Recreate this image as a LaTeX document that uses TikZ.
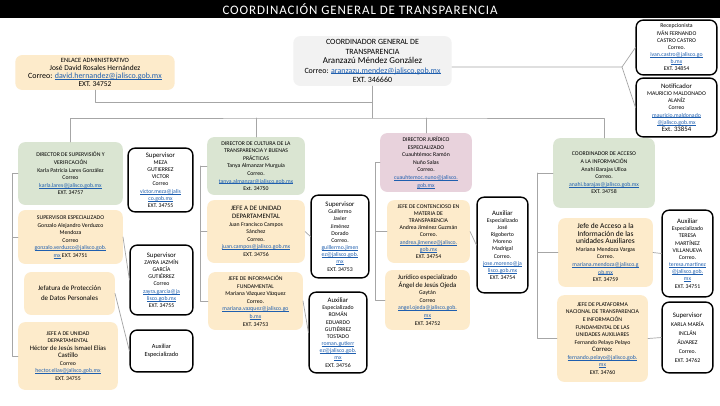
\documentclass[tikz,border=0pt]{standalone}
\usepackage{fontspec}
\setmainfont{Carlito}
\definecolor{boxgreen}{HTML}{DAE5D2}
\definecolor{boxyellow}{HTML}{FDEBCB}
\definecolor{boxgrey}{HTML}{F2F2F2}
\definecolor{boxpink}{HTML}{E8D2DC}
\definecolor{conngray}{HTML}{A6A6A6}
\definecolor{linkblue}{HTML}{1F5FAF}
\newcommand\lnk[1]{{\color{linkblue}\setbox0\hbox{#1}\rlap{\vrule width\wd0 height -0.45pt depth 0.85pt}\box0}}
\newcommand\txs{\fontsize{5.8}{7.6}\selectfont}
\newcommand\txb{\fontsize{5.8}{7.2}\selectfont}
\newcommand\txm{\fontsize{6.8}{8.5}\selectfont}
\newcommand\txl{\fontsize{7.5}{9}\selectfont}
\tikzset{
  every picture/.style={line join=round, line cap=round},
  orgbox/.style={rounded corners=7pt, align=center, inner sep=2pt, font=\txs},
  grnbox/.style={orgbox, fill=boxgreen},
  ylwbox/.style={orgbox, fill=boxyellow},
  greybox/.style={orgbox, fill=boxgrey},
  pinkbox/.style={orgbox, fill=boxpink},
  blkbox/.style={orgbox, draw=black, line width=1.4pt, fill=white, font=\txb},
  conn/.style={draw=conngray, line width=0.7pt},
}

\begin{document}
\begin{tikzpicture}[x=1bp,y=-1bp]
\useasboundingbox (0,0) rectangle (720,405);
\fill[white] (0,0) rectangle (720,405);
\fill[black] (0,0) rectangle (720,18);
\node[text=white, font=\fontsize{13}{14}\selectfont\addfontfeatures{LetterSpace=7}] (title) at (360,9.5) {COORDINACIÓN GENERAL DE TRANSPARENCIA};

\node[greybox, minimum width=159, minimum height=50, font=\fontsize{8}{9.5}\selectfont] (coord) at (372.5,61)
  {COORDINADOR GENERAL DE\\TRANSPARENCIA\\{\fontsize{9}{9.5}\selectfont Aranzazú Méndez González}\\Correo: \lnk{aranzazu.mendez@jalisco.gob.mx}\\EXT. 346660};
\node[ylwbox, minimum width=160, minimum height=35, font=\fontsize{7.5}{8}\selectfont] (enlace) at (95,72.5)
  {{\fontsize{6.5}{8}\selectfont ENLACE ADMINISTRATIVO}\\José David Rosales Hernández\\{\fontsize{8}{8}\selectfont Correo: \lnk{david.hernandez@jalisco.gob.mx}}\\EXT. 34752};
\node[blkbox, minimum width=81, minimum height=55] (recep) at (676.5,47.5)
  {Recepcionista\\IVÁN FERNANDO\\CASTRO CASTRO\\Correo.\\\lnk{ivan.castro@jalisco.go}\\\lnk{b.mx}\\EXT. 34854};
\node[blkbox, minimum width=81, minimum height=59] (notif) at (676.5,107.5)
  {{\txm Notificador}\\MAURICIO MALDONADO\\ALANÍZ\\Correo\\\lnk{mauricio.maldonado}\\\lnk{@jalisco.gob.mx}\\{\txm Ext. 33854}};

\node[grnbox, minimum width=105, minimum height=63] (dirsup) at (70.5,173.5)
  {DIRECTOR DE SUPERVISIÓN Y\\VERIFICACIÓN\\Karla Patricia Lares González\\Correo\\\lnk{karla.lares@jalisco.gob.mx}\\EXT. 34757};
\node[ylwbox, minimum width=105, minimum height=54] (supesp) at (70.5,237)
  {SUPERVISOR ESPECIALIZADO\\Gonzalo Alejandro Verduzco\\Mendoza\\Correo\\\lnk{gonzalo.verduzco@jalisco.gob.}\\\lnk{mx} EXT. 34751};
\node[ylwbox, minimum width=91, minimum height=43, font=\fontsize{7}{10}\selectfont] (jefprot) at (69.5,293.5)
  {Jefatura de Protección\\de Datos Personales};
\node[ylwbox, minimum width=100, minimum height=68] (jefud1) at (68,356)
  {JEFE A DE UNIDAD\\DEPARTAMENTAL\\{\txm Héctor de Jesús Ismael Elías}\\{\txm Castillo}\\Correo\\\lnk{hector.elias@jalisco.gob.mx}\\EXT. 34755};
\node[blkbox, minimum width=65, minimum height=64] (meza) at (160.5,180)
  {{\txm Supervisor}\\MEZA\\GUTIERREZ\\VICTOR\\Correo\\\lnk{victor.meza@jalis}\\\lnk{co.gob.mx}\\EXT. 34755};
\node[blkbox, minimum width=63, minimum height=70] (zayra) at (161.5,280)
  {{\txm Supervisor}\\ZAYRA JAZMÍN\\GARCÍA\\GUTIÉRREZ\\Correo\\\lnk{zayra.garcia@ja}\\\lnk{lisco.gob.mx}\\EXT. 34755};
\node[blkbox, minimum width=63, minimum height=42, font=\fontsize{6.3}{8.5}\selectfont] (aux1) at (161.5,351)
  {Auxiliar\\Especializado};

\node[grnbox, minimum width=98, minimum height=58] (dircul) at (256,166)
  {DIRECTOR DE CULTURA DE LA\\TRANSPARENCIA Y BUENAS\\PRÁCTICAS\\Tanya Almanzar Murguía\\Correo.\\\lnk{tanya.almanzar@jalisco.gob.mx}\\Ext. 34750};
\node[ylwbox, minimum width=98, minimum height=63] (jefud2) at (256,231.5)
  {{\txm JEFE A DE UNIDAD}\\{\txm DEPARTAMENTAL}\\Juan Francisco Campos\\Sánchez\\Correo.\\\lnk{juan.campos@jalisco.gob.mx}\\EXT. 34756};
\node[ylwbox, minimum width=95, minimum height=58] (jefinf) at (255.5,301)
  {JEFE DE INFORMACIÓN\\FUNDAMENTAL\\Mariana Vázquez Vázquez\\Correo.\\\lnk{mariana.vazquez@jalisco.go}\\\lnk{b.mx}\\EXT. 34753};
\node[blkbox, minimum width=58, minimum height=83] (guill) at (340,236.5)
  {{\txm Supervisor}\\Guillermo\\Javier\\Jiménez\\Dorado\\Correo.\\\lnk{guillermo.jimen}\\\lnk{ez@jalisco.gob.}\\\lnk{mx}\\EXT. 34753};
\node[blkbox, minimum width=58, minimum height=81] (roman) at (338,332.5)
  {{\txm Auxiliar}\\Especializado\\ROMÁN\\EDUARDO\\GUTIÉRREZ\\TOSTADO\\\lnk{roman.gutierr}\\\lnk{ez@jalisco.gob.}\\\lnk{mx}\\EXT. 34756};

\node[pinkbox, minimum width=92, minimum height=59] (dirjur) at (426,162.5)
  {DIRECTOR JURÍDICO\\ESPECIALIZADO\\Cuauhtémoc Ramón\\Nuño Salas\\Correo.\\\lnk{cuauhtemoc.nuno@jalisco.}\\\lnk{gob.mx}};
\node[ylwbox, minimum width=83, minimum height=63, font=\fontsize{5.8}{7.2}\selectfont] (jefcon) at (428.5,231.5)
  {JEFE DE CONTENCIOSO EN\\MATERIA DE\\TRANSPARENCIA\\Andrea Jiménez Guzmán\\Correo.\\\lnk{andrea.jimenez@jalisco.}\\\lnk{gob.mx}\\EXT. 34754};
\node[ylwbox, minimum width=85, minimum height=60] (juresp) at (427.5,300)
  {{\txm Jurídico especializado}\\{\txm Ángel de Jesús Ojeda}\\Gaytán\\Correo\\\lnk{angel.ojeda@jalisco.gob.}\\\lnk{mx}\\EXT. 34752};
\node[blkbox, minimum width=51, minimum height=96] (jose) at (502.5,245)
  {{\txm Auxiliar}\\Especializado\\José\\Rigoberto\\Moreno\\Madrigal\\Correo.\\\lnk{jose.moreno@ja}\\\lnk{lisco.gob.mx}\\EXT. 34754};

\node[grnbox, minimum width=102, minimum height=70] (coordacc) at (604,173)
  {COORDINADOR DE ACCESO\\A LA INFORMACIÓN\\Anahí Barajas Ulloa\\Correo.\\\lnk{anahi.barajas@jalisco.gob.mx}\\EXT. 34758};
\node[ylwbox, minimum width=95, minimum height=69] (jefacc) at (605.5,252.5)
  {{\txl Jefe de Acceso a la}\\{\txl Información de las}\\{\txl unidades Auxiliares}\\Mariana Mendoza Vargas\\Correo.\\\lnk{mariana.mendoza@jalisco.g}\\\lnk{ob.mx}\\EXT. 34759};
\node[ylwbox, minimum width=91, minimum height=87] (jefplat) at (602.5,338.5)
  {JEFE DE PLATAFORMA\\NACIONAL DE TRANSPARENCIA\\E INFORMACIÓN\\FUNDAMENTAL DE LAS\\UNIDADES AUXILIARES\\Fernando Pelayo Pelayo\\{\txm Correo:}\\\lnk{fernando.pelayo@jalisco.gob.}\\\lnk{mx}\\EXT. 34760};
\node[blkbox, minimum width=51, minimum height=87] (teresa) at (687.5,253.5)
  {{\txm Auxiliar}\\Especializado\\TERESA\\MARTÍNEZ\\VILLANUEVA\\Correo.\\\lnk{teresa.martinez}\\\lnk{@jalisco.gob.}\\\lnk{mx}\\EXT. 34751};
\node[blkbox, minimum width=51, minimum height=71, font=\fontsize{5.8}{9}\selectfont] (karla) at (687.5,337.5)
  {{\txm Supervisor}\\KARLA MARÍA\\INCLÁN\\ÁLVAREZ\\Correo.\\EXT. 34762};

\coordinate (enl) at (372.5,102);
\coordinate (bus) at (372.5,118);
\coordinate (rsplit) at (622,67);
\draw[conn] (coord.south) -- (bus);
\draw[conn] (enlace.south) |- (enl);
\draw[conn] (dirsup.north) |- (bus) -| (coordacc.north);
\draw[conn] (dircul.north) -- (dircul.north |- bus);
\draw[conn] (dirjur.north) -- (dirjur.north |- bus);
\draw[conn] (coord.east |- rsplit) -- (rsplit) -- (recep.west);
\draw[conn] (rsplit) -- (notif.west);

\coordinate (b1) at ([xshift=-6pt]dirsup.west);
\draw[conn] (dirsup.west) -- (b1) |- (jefud1.west);
\draw[conn] (b1) |- (supesp.west);
\coordinate (b2) at ([xshift=-7pt]dircul.west);
\draw[conn] (dircul.west) -- (b2) |- (jefinf.west);
\draw[conn] (b2) |- (jefud2.west);
\coordinate (b3) at ([xshift=-5pt]dirjur.west);
\draw[conn] (dirjur.west) -- (b3) |- (juresp.west);
\draw[conn] (b3) |- (jefcon.west);
\coordinate (b4) at ([xshift=-16pt]coordacc.west);
\draw[conn] (coordacc.west) -- (b4) |- (jefplat.west);
\draw[conn] (b4) |- (jefacc.west);

\draw[conn] (supesp.east) -- (zayra.west);
\draw[conn] (jefprot.east) -- (aux1.west);
\draw[conn] (jefud2.east) -- (guill.west);
\draw[conn] (jefinf.east) -- (roman.west);
\draw[conn] (jefcon.east) -- (jose.west);
\draw[conn] (jefacc.east) -- (teresa.west);
\draw[conn] (jefplat.east) -- (karla.west);
\end{tikzpicture}
\end{document}
